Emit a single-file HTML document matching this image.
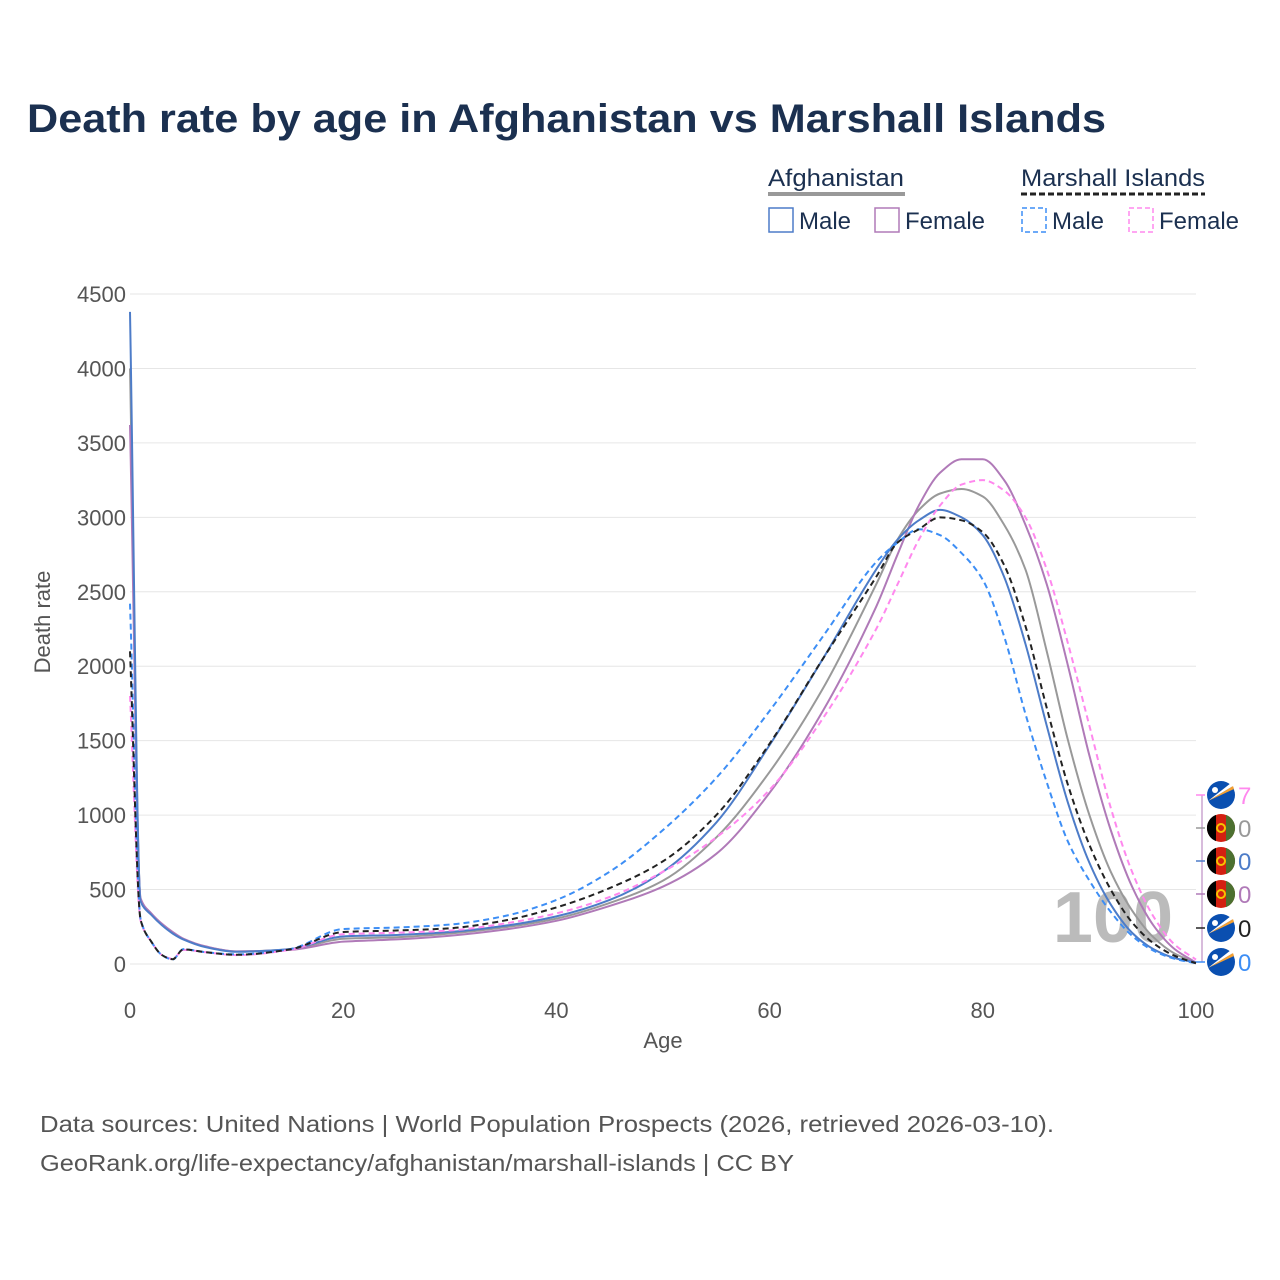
<!DOCTYPE html>
<html><head><meta charset="utf-8"><style>
body{margin:0;background:#fff}
svg{display:block;font-family:"Liberation Sans",sans-serif}
</style></head><body>
<svg id="chart" width="1280" height="1280" viewBox="0 0 1280 1280">
<text x="27" y="132" font-size="40" font-weight="bold" fill="#1b3050" textLength="1079" lengthAdjust="spacingAndGlyphs">Death rate by age in Afghanistan vs Marshall Islands</text>
<g font-size="24" fill="#1b3050">
<text x="768" y="186" textLength="136" lengthAdjust="spacingAndGlyphs">Afghanistan</text>
<line x1="768" y1="194" x2="905" y2="194" stroke="#999" stroke-width="4"/>
<text x="1021" y="186" textLength="184" lengthAdjust="spacingAndGlyphs">Marshall Islands</text>
<line x1="1021" y1="194" x2="1205" y2="194" stroke="#222" stroke-width="3" stroke-dasharray="6,3"/>
<g><rect x="769" y="208" width="24" height="24" fill="none" stroke="#4d7cc8" stroke-width="1.5"/><text x="799" y="229">Male</text></g>
<g><rect x="875" y="208" width="24" height="24" fill="none" stroke="#b07ab8" stroke-width="1.5"/><text x="905" y="229">Female</text></g>
<g><rect x="1022" y="208" width="24" height="24" fill="none" stroke="#3d8ef5" stroke-width="1.5" stroke-dasharray="5,3"/><text x="1052" y="229">Male</text></g>
<g><rect x="1129" y="208" width="24" height="24" fill="none" stroke="#ff88ee" stroke-width="1.5" stroke-dasharray="5,3"/><text x="1159" y="229">Female</text></g>
</g>
<g id="grid"></g>
<text x="1113" y="942" font-size="72" font-weight="bold" fill="#bbb" text-anchor="middle">100</text>
<g id="lines"></g>
<g id="endlabels"></g>
<text transform="translate(50,622) rotate(-90)" font-size="22" fill="#555" text-anchor="middle">Death rate</text>
<text x="663" y="1048" font-size="22" fill="#555" text-anchor="middle">Age</text>
<text x="40" y="1132" font-size="23" fill="#555" textLength="1014" lengthAdjust="spacingAndGlyphs">Data sources: United Nations | World Population Prospects (2026, retrieved 2026-03-10).</text>
<text x="40" y="1171" font-size="23" fill="#555" textLength="754" lengthAdjust="spacingAndGlyphs">GeoRank.org/life-expectancy/afghanistan/marshall-islands | CC BY</text>
</svg>
<script>
const ages=[0,1,2,3,4,5,7,10,15,20,25,30,35,40,45,50,55,60,65,70,72,74,76,78,80,82,84,86,88,90,92,94,96,98,100];
const afgMale=[4380,420,330,260,205,165,115,82,100,185,195,215,255,320,430,620,950,1470,2050,2650,2850,2980,3050,3000,2880,2600,2150,1600,1080,680,400,210,100,40,10];
const afgFemale=[3620,440,340,270,215,170,120,85,95,150,165,190,230,290,390,520,740,1150,1700,2400,2750,3080,3300,3390,3390,3250,2950,2550,2000,1400,900,520,260,100,10];
const afgBoth=[4000,430,335,265,210,168,118,84,98,170,180,205,245,305,410,560,850,1290,1850,2550,2850,3050,3160,3190,3140,2950,2650,2100,1500,1000,620,360,180,70,10];
const mhMale=[2420,300,150,60,30,100,80,65,100,235,245,265,320,430,620,900,1250,1700,2200,2700,2830,2920,2880,2760,2580,2200,1680,1220,820,560,350,190,90,35,5];
const mhFemale=[1800,290,150,60,35,95,80,60,95,200,210,225,270,340,450,620,850,1170,1650,2250,2550,2850,3080,3220,3250,3180,3000,2650,2150,1600,1050,620,320,130,30];
const mhBoth=[2100,295,150,60,32,98,80,62,98,215,225,240,290,380,510,690,1000,1480,2050,2600,2830,2920,3000,2980,2900,2680,2270,1720,1200,800,500,280,140,55,5];
const yTicks=[0,500,1000,1500,2000,2500,3000,3500,4000,4500];
const xTicks=[0,20,40,60,80,100];
const endValues=["7","0","0","0","0","0"];

const NS="http://www.w3.org/2000/svg";
const X=a=>130+a*10.66;
const Y=v=>964-v*(670/4500);
function mk(t,at,p){const e=document.createElementNS(NS,t);for(const k in at)e.setAttribute(k,at[k]);p.appendChild(e);return e;}
const grid=document.getElementById('grid');
yTicks.forEach(v=>{
  const l=mk('line',{x1:130,x2:1196,y1:Y(v),y2:Y(v),stroke:'#e6e6e6','stroke-width':1},grid);
  
  
  const t=mk('text',{x:126,y:Y(v)+8,'font-size':22,fill:'#555','text-anchor':'end'},grid);
  t.textContent=v;
  
  
});
xTicks.forEach(a=>{
  const t=mk('text',{x:X(a),y:1018,'font-size':22,fill:'#555','text-anchor':'middle'},grid);
  t.textContent=a;
  
  
});
function monoPath(xs,ys){
  const n=xs.length,d=[],m=[];
  for(let i=0;i<n-1;i++)d.push((ys[i+1]-ys[i])/(xs[i+1]-xs[i]));
  m[0]=d[0];m[n-1]=d[n-2];
  for(let i=1;i<n-1;i++){m[i]=(d[i-1]*d[i]<=0)?0:2/((1/d[i-1])+(1/d[i]));}
  let p='M'+xs[0]+','+ys[0];
  for(let i=0;i<n-1;i++){const h=xs[i+1]-xs[i];
    p+=' C'+(xs[i]+h/3)+','+(ys[i]+m[i]*h/3)+' '+(xs[i+1]-h/3)+','+(ys[i+1]-m[i+1]*h/3)+' '+xs[i+1]+','+ys[i+1];}
  return p;
}
const lines=document.getElementById('lines');
const series=[
 ['line-afg-both',afgBoth,'#999',null],
 ['line-afg-female',afgFemale,'#b07ab8',null],
 ['line-afg-male',afgMale,'#4d7cc8',null],
 ['line-mh-female',mhFemale,'#ff88ee','6,4'],
 ['line-mh-male',mhMale,'#3d8ef5','6,4'],
 ['line-mh-both',mhBoth,'#222','6,4']
];
series.forEach(s=>{
  const xs=ages.map(X),ys=s[1].map(Y);
  const at={d:monoPath(xs,ys),fill:'none',stroke:s[2],'stroke-width':2};
  if(s[3])at['stroke-dasharray']=s[3];
  const p=mk('path',at,lines);
  
  
});
const el=document.getElementById('endlabels');
const labY=[795,828,861,894,928,962];
const labCol=['#ff88ee','#999','#4d7cc8','#b07ab8','#222','#3d8ef5'];
const labFlag=['mh','af','af','af','mh','mh'];
mk('path',{d:'M1196,795 H1202 V962 H1196',fill:'none',stroke:'#b07ab8','stroke-width':1},el);
labY.forEach((y,i)=>{
  mk('line',{x1:1196,x2:1205,y1:y,y2:y,stroke:labCol[i],'stroke-width':1.5},el);
  const g=mk('g',{},el);
  
  
  if(labFlag[i]==='af'){
    mk('circle',{cx:1221,cy:y,r:14,fill:'#d32011'},g);
    mk('path',{d:`M1216,${y-13.1} A14,14 0 0 0 1216,${y+13.1} Z`,fill:'#000'},g);
    mk('path',{d:`M1226,${y-13.1} A14,14 0 0 1 1226,${y+13.1} Z`,fill:'#4c7030'},g);
    mk('circle',{cx:1221,cy:y,r:4,fill:'none',stroke:'#f5c400','stroke-width':2},g);
  }else{
    mk('circle',{cx:1221,cy:y,r:14,fill:'#0a4fb0'},g);
    mk('path',{d:`M1208,${y+6} L1233,${y-9} L1234,${y-6} Z`,fill:'#f5a030'},g);
    mk('path',{d:`M1208,${y+6} L1231,${y-12} L1233,${y-9} Z`,fill:'#fff'},g);
    mk('circle',{cx:1215,cy:y-5,r:3,fill:'#fff'},g);
  }
  const t=mk('text',{x:1238,y:y+9,'font-size':24,fill:labCol[i]},el);
  t.textContent=endValues[i];
  
  
});
</script>
</body></html>
